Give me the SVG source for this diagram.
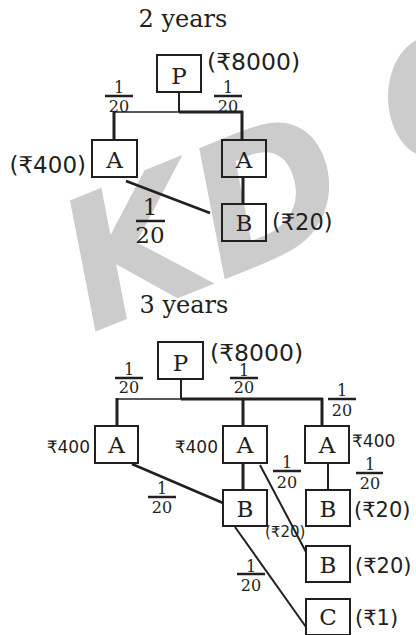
<svg xmlns="http://www.w3.org/2000/svg" width="416" height="635" viewBox="0 0 416 635">
<style>
.wm{font-family:"DejaVu Sans",sans-serif;font-weight:bold;font-style:italic;fill:#cccccc}
.box{fill:none;stroke:#231f20;stroke-width:2}
.ser{font-family:"DejaVu Serif",serif;fill:#231f20}
.lbl{font-family:"DejaVu Serif",serif;font-size:23px;text-anchor:middle;fill:#231f20}
.sans{font-family:"DejaVu Sans","Noto Sans",sans-serif;fill:#231f20}
.fs{font-family:"DejaVu Serif",serif;font-size:16px;text-anchor:middle;fill:#231f20}
.fl{font-family:"DejaVu Serif",serif;font-size:23px;text-anchor:middle;fill:#231f20}
.bar{stroke:#231f20;stroke-width:2.5}
.ln{stroke:#231f20;fill:none}
</style>
<rect width="416" height="635" fill="#ffffff"/>
<g id="watermark">
<text class="wm" x="92" y="333" font-size="180" transform="rotate(-22 92 333)">KD</text>
<ellipse cx="432" cy="97" rx="44" ry="61" fill="#cccccc"/>
</g>
<g id="connectors">
<line class="ln" x1="114" y1="112" x2="179" y2="112" stroke-width="1.6"/>
<line class="ln" x1="179" y1="112" x2="243" y2="112" stroke-width="3"/>
<line class="ln" x1="179" y1="92" x2="179" y2="112" stroke-width="2"/>
<line class="ln" x1="114" y1="111" x2="114" y2="140" stroke-width="3"/>
<line class="ln" x1="242" y1="111" x2="242" y2="140" stroke-width="3"/>
<line class="ln" x1="243" y1="177" x2="243" y2="204" stroke-width="3"/>
<line class="ln" x1="126" y1="181" x2="210" y2="213" stroke-width="2.5"/>
<line class="ln" x1="117" y1="399" x2="181" y2="399" stroke-width="1.6"/>
<line class="ln" x1="181" y1="399" x2="323" y2="399" stroke-width="3"/>
<line class="ln" x1="181" y1="379" x2="181" y2="399" stroke-width="2"/>
<line class="ln" x1="117" y1="398" x2="117" y2="426" stroke-width="3"/>
<line class="ln" x1="243" y1="398" x2="243" y2="426" stroke-width="3"/>
<line class="ln" x1="322" y1="398" x2="322" y2="426" stroke-width="3"/>
<line class="ln" x1="132" y1="464" x2="223" y2="503" stroke-width="2.5"/>
<line class="ln" x1="243" y1="463" x2="243" y2="490" stroke-width="3"/>
<line class="ln" x1="328" y1="463" x2="328" y2="490" stroke-width="2"/>
<line class="ln" x1="260" y1="465" x2="306" y2="552" stroke-width="2"/>
<line class="ln" x1="235" y1="527" x2="306" y2="627" stroke-width="2"/>
</g>
<g id="titles">
<text class="ser" x="183" y="27" font-size="24" text-anchor="middle">2 years</text>
<text class="ser" x="184" y="313" font-size="24" text-anchor="middle">3 years</text>
</g>
<g id="fractions">
<text class="fs" x="119" y="93">1</text><line class="bar" x1="105" y1="96" x2="133" y2="96"/><text class="fs" x="119" y="112">20</text>
<text class="fs" x="228" y="93">1</text><line class="bar" x1="214" y1="96" x2="242" y2="96"/><text class="fs" x="228" y="112">20</text>
<text class="fl" x="150" y="215">1</text><line class="bar" x1="136" y1="221" x2="165" y2="221" stroke-width="3"/><text class="fl" x="150" y="243">20</text>
<text class="fs" x="129" y="375">1</text><line class="bar" x1="115" y1="378" x2="143" y2="378"/><text class="fs" x="129" y="393">20</text>
<text class="fs" x="244" y="375.5">1</text><line class="bar" x1="230" y1="378" x2="258" y2="378"/><text class="fs" x="244" y="393">20</text>
<text class="fs" x="342" y="396">1</text><line class="bar" x1="328" y1="399" x2="356" y2="399"/><text class="fs" x="342" y="416">20</text>
<text class="fs" x="287" y="468">1</text><line class="bar" x1="273" y1="471" x2="301" y2="471"/><text class="fs" x="287" y="488">20</text>
<text class="fs" x="370" y="470">1</text><line class="bar" x1="356" y1="473" x2="383" y2="473"/><text class="fs" x="370" y="489">20</text>
<text class="fs" x="162" y="494">1</text><line class="bar" x1="148" y1="497" x2="176" y2="497"/><text class="fs" x="162" y="513">20</text>
<text class="fs" x="251" y="572">1</text><line class="bar" x1="237" y1="574" x2="265" y2="574"/><text class="fs" x="251" y="591">20</text>
</g>
<g id="node-p1"><rect class="box" x="157" y="55" width="44" height="37"/><text class="lbl" x="179" y="84">P</text><text class="sans" x="207" y="70" font-size="23.5">(₹8000)</text></g>
<g id="node-a1"><rect class="box" x="92" y="140" width="45" height="37"/><text class="lbl" x="114.5" y="168">A</text><text class="sans" x="86" y="173" font-size="23" text-anchor="end">(₹400)</text></g>
<g id="node-a2"><rect class="box" x="222" y="140" width="44" height="37"/><text class="lbl" x="244" y="168">A</text></g>
<g id="node-b1"><rect class="box" x="222" y="204" width="44" height="37"/><text class="lbl" x="244" y="231">B</text><text class="sans" x="272" y="230" font-size="22.5">(₹20)</text></g>
<g id="node-p2"><rect class="box" x="158" y="342" width="45" height="37"/><text class="lbl" x="180.5" y="371">P</text><text class="sans" x="210" y="361" font-size="23.5">(₹8000)</text></g>
<g id="node-a3"><rect class="box" x="95" y="426" width="43" height="37"/><text class="lbl" x="116.5" y="453">A</text><text class="sans" x="90" y="453" font-size="17" text-anchor="end">₹400</text></g>
<g id="node-a4"><rect class="box" x="223" y="426" width="44" height="37"/><text class="lbl" x="245" y="453">A</text><text class="sans" x="218" y="453" font-size="17" text-anchor="end">₹400</text></g>
<g id="node-a5"><rect class="box" x="305" y="426" width="44" height="37"/><text class="lbl" x="327" y="453">A</text><text class="sans" x="352" y="447" font-size="17">₹400</text></g>
<g id="node-b2"><rect class="box" x="223" y="490" width="44" height="36"/><text class="lbl" x="245" y="517">B</text><text class="sans" x="265" y="537" font-size="15">(₹20)</text></g>
<g id="node-b3"><rect class="box" x="306" y="490" width="44" height="36"/><text class="lbl" x="328" y="517">B</text><text class="sans" x="354" y="517" font-size="21">(₹20)</text></g>
<g id="node-b4"><rect class="box" x="306" y="546" width="44" height="36"/><text class="lbl" x="328" y="573">B</text><text class="sans" x="355" y="573" font-size="21">(₹20)</text></g>
<g id="node-c"><rect class="box" x="306" y="599" width="44" height="36"/><text class="lbl" x="328" y="625">C</text><text class="sans" x="355" y="625" font-size="21">(₹1)</text></g>
</svg>
